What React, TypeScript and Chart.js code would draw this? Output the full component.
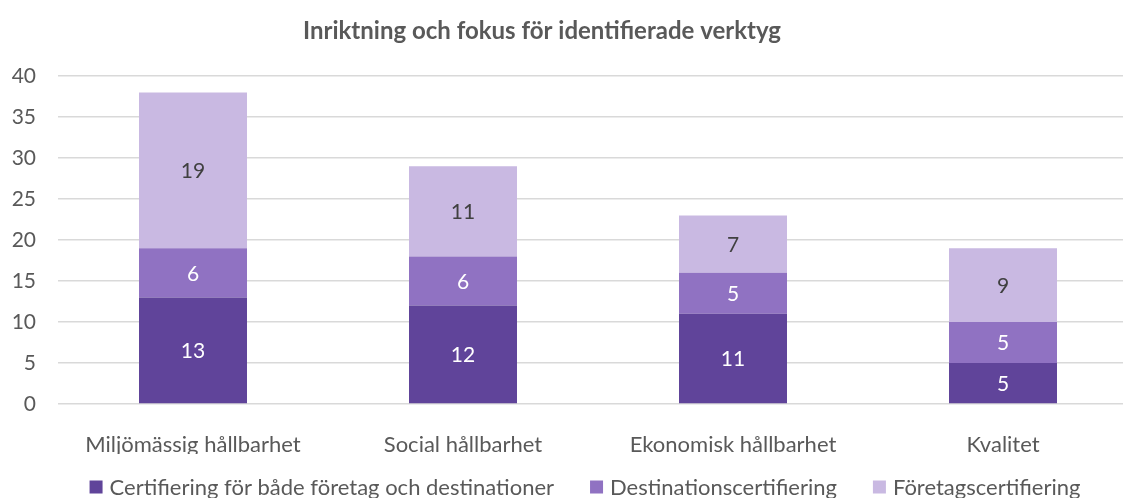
import React, { useEffect, useRef } from "react";
import { Chart, registerables } from "chart.js";

Chart.register(...registerables);

const title = "Inriktning och fokus för identifierade verktyg";
const categories = ["Miljömässig hållbarhet", "Social hållbarhet", "Ekonomisk hållbarhet", "Kvalitet"];
const seriesNames = ["Certifiering för både företag och destinationer", "Destinationscertifiering", "Företagscertifiering"];
const bothValues = [13, 12, 11, 5];
const destinationValues = [6, 6, 5, 5];
const companyValues = [19, 11, 7, 9];
const colors = ["#60449A", "#9072C2", "#C9B9E2"];
const labelColors = ["#FFFFFF", "#FFFFFF", "#404040"];

const FONT = "Lato, 'Open Sans', sans-serif";
const TEXT = "#595959";

const dataLabels = {
  id: "dataLabels",
  afterDatasetsDraw(chart: any) {
    const ctx = chart.ctx;
    ctx.save();
    ctx.font = `21px ${FONT}`;
    ctx.textAlign = "center";
    ctx.textBaseline = "middle";
    chart.data.datasets.forEach((ds: any, i: number) => {
      const meta = chart.getDatasetMeta(i);
      meta.data.forEach((el: any, j: number) => {
        const { x, y, base } = el.getProps(["x", "y", "base"], true);
        ctx.fillStyle = labelColors[i];
        ctx.fillText(String(ds.data[j]), x, (y + base) / 2 + 1);
      });
    });
    ctx.restore();
  },
};

const titleAndLegend = {
  id: "titleAndLegend",
  afterDraw(chart: any) {
    const ctx = chart.ctx;
    ctx.save();
    ctx.font = `bold 24px ${FONT}`;
    ctx.fillStyle = TEXT;
    ctx.textAlign = "center";
    ctx.textBaseline = "middle";
    ctx.fillText(title, 542, 31);

    ctx.font = `22px ${FONT}`;
    const box = 13;
    const boxGap = 7;
    const itemGap = 36;
    const widths = seriesNames.map((n) => box + boxGap + ctx.measureText(n).width);
    const total = widths.reduce((a, b) => a + b, 0) + itemGap * (seriesNames.length - 1);
    let x = 585 - total / 2;
    const y = 487;
    ctx.textAlign = "left";
    seriesNames.forEach((n, i) => {
      ctx.fillStyle = colors[i];
      ctx.fillRect(x, y - box / 2, box, box);
      ctx.fillStyle = TEXT;
      ctx.fillText(n, x + box + boxGap, y + 1);
      x += widths[i] + itemGap;
    });
    ctx.restore();
  },
};

export default function App() {
  const ref = useRef<HTMLCanvasElement>(null);
  useEffect(() => {
    if (!ref.current) return;
    const values = [bothValues, destinationValues, companyValues];
    const chart = new Chart(ref.current, {
      type: "bar",
      data: {
        labels: categories,
        datasets: seriesNames.map((name, i) => ({
          label: name,
          data: values[i],
          backgroundColor: colors[i],
          barPercentage: 0.4,
          categoryPercentage: 1,
        })),
      },
      options: {
        animation: false,
        responsive: false,
        layout: { padding: { top: 76, bottom: 44, left: 0, right: 0 } },
        plugins: { legend: { display: false }, title: { display: false }, tooltip: { enabled: false } },
        scales: {
          x: {
            stacked: true,
            grid: { display: false },
            border: { display: false },
            ticks: { color: TEXT, font: { family: FONT, size: 22 }, padding: 20, maxRotation: 0 },
            afterFit(scale: any) {
              scale.height = 50;
            },
          },
          y: {
            stacked: true,
            min: 0,
            max: 40,
            ticks: { stepSize: 5, color: TEXT, font: { family: FONT, size: 21 }, padding: 22 },
            grid: { color: "#D9D9D9", lineWidth: 1.5, drawTicks: false },
            border: { display: false },
            afterFit(scale: any) {
              scale.width = 58;
            },
          },
        },
      },
      plugins: [dataLabels, titleAndLegend],
    });
    return () => chart.destroy();
  }, []);
  return (
    <div style={{ position: "fixed", left: 0, top: 0, width: 1123, height: 498, overflow: "hidden", background: "#fff" }}>
      <canvas ref={ref} width={1138} height={498} style={{ width: 1138, height: 498, display: "block" }} />
    </div>
  );
}
